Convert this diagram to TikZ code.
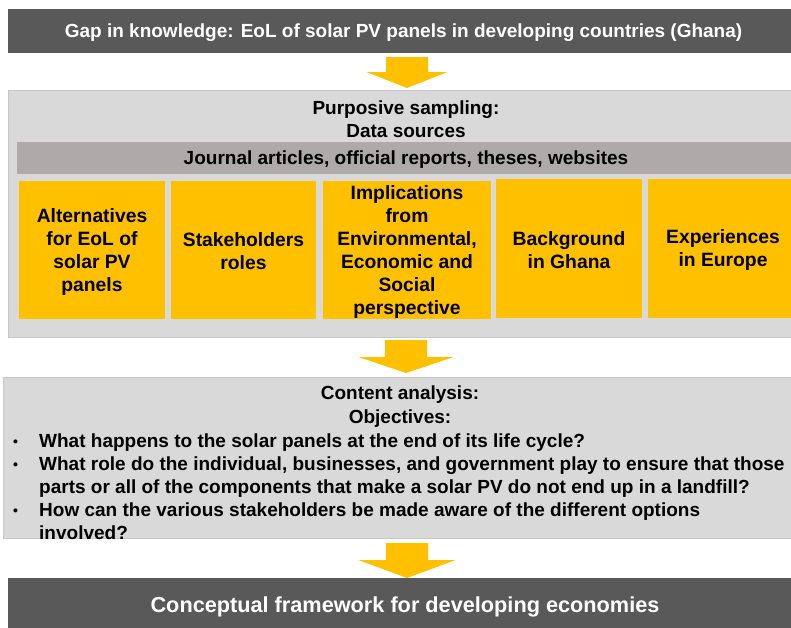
\documentclass[tikz,border=0pt]{standalone}
\usepackage{fontspec}
\setmainfont{Liberation Sans}
\usetikzlibrary{calc}
\definecolor{darkbar}{HTML}{595959}
\definecolor{panelgray}{HTML}{D9D9D9}
\definecolor{bandgray}{HTML}{AEAAAA}
\definecolor{gold}{HTML}{FFC000}
\begin{document}
\begin{tikzpicture}[x=1pt,y=-1pt,
  bar/.style={fill=darkbar, inner sep=0pt, anchor=north west},
  panel/.style={fill=panelgray, draw=black!22, line width=0.6pt, inner sep=0pt, anchor=north west},
  band/.style={fill=bandgray, inner sep=0pt, anchor=north west},
  ybox/.style={fill=gold, inner sep=0pt, anchor=north west},
  ytxt/.style={inner sep=0pt, align=center, font=\bfseries\fontsize{19.3}{23}\selectfont},
  lbl/.style={inner sep=0pt, align=center, font=\bfseries\fontsize{19}{23}\selectfont},
  pics/blkarrow/.style args={#1/#2/#3}{code={
    \fill[gold] (-21,0) -- (21,0) -- (21,#1) -- (#2,#1) -- (0,#3) -- (-#2,#1) -- (-21,#1) -- cycle;}}
]
\clip (0,0) rectangle (791,627);
\fill[white] (0,0) rectangle (791,627);

% top bar
\node[bar, minimum width=792pt, minimum height=44pt] (gap) at (8,9) {};
\node[lbl, text=white] (gaptxt) at (403.5,32.5)
  {Gap in knowledge: EoL of solar PV panels in developing countries (Ghana)};

% purposive sampling panel
\node[panel, minimum width=792pt, minimum height=247pt] (ps) at (8,90) {};
\node[lbl] (pstitle) at (406,119.5) {Purposive sampling:\\Data sources};
\node[band, minimum width=783pt, minimum height=32pt] (band) at (17,142) {};
\node[lbl] (bandtxt) at (406,160) {Journal articles, official reports, theses, websites};

\node[ybox, minimum width=146pt, minimum height=138pt] (b1) at (19,181) {};
\node[ybox, minimum width=145pt, minimum height=138pt] (b2) at (171,181) {};
\node[ybox, minimum width=168pt, minimum height=138pt] (b3) at (323,181) {};
\node[ybox, minimum width=146pt, minimum height=139pt] (b4) at (496,179) {};
\node[ybox, minimum width=150pt, minimum height=139pt] (b5) at (648,179) {};

\node[ytxt] (b1t) at (92,252.5) {Alternatives\\for EoL of\\solar PV\\panels};
\node[ytxt] (b2t) at (243.5,251.5) {Stakeholders\\roles};
\node[ytxt] (b3t) at (407,252.5) {Implications\\from\\Environmental,\\Economic and\\Social\\perspective};
\node[ytxt] (b4t) at (569,250) {Background\\in Ghana};
\node[ytxt] (b5t) at (723,250) {Experiences\\in Europe};

% content analysis panel
\node[panel, minimum width=797pt, minimum height=161pt] (ca) at (3,377) {};
\node[lbl, font=\bfseries\fontsize{19}{24}\selectfont] (catitle) at (400,407) {Content analysis:\\Objectives:};
\node[inner sep=0pt, anchor=north west, align=left,
      font=\bfseries\fontsize{19}{23}\selectfont] (obj) at (13,433.5)
  {\makebox[26pt][l]{\raisebox{1pt}{\fontsize{14}{14}\selectfont\textbullet}}What happens to the solar panels at the end of its life cycle?\\
   \makebox[26pt][l]{\raisebox{1pt}{\fontsize{14}{14}\selectfont\textbullet}}What role do the individual, businesses, and government play to ensure that those\\
   \hspace*{26pt}parts or all of the components that make a solar PV do not end up in a landfill?\\
   \makebox[26pt][l]{\raisebox{1pt}{\fontsize{14}{14}\selectfont\textbullet}}How can the various stakeholders be made aware of the different options\\
   \hspace*{26pt}involved?};

% bottom bar
\node[bar, minimum width=792pt, minimum height=60pt] (cf) at (8,578) {};
\node[inner sep=0pt, text=white, font=\bfseries\fontsize{21.7}{26}\selectfont] (cftxt) at (405,607)
  {Conceptual framework for developing economies};

% block arrows
\path (407,57) pic {blkarrow=15/40.5/31};
\path (406,340) pic {blkarrow=17/47.5/33};
\path (407,543) pic {blkarrow=17/48.5/35};
\end{tikzpicture}
\end{document}
